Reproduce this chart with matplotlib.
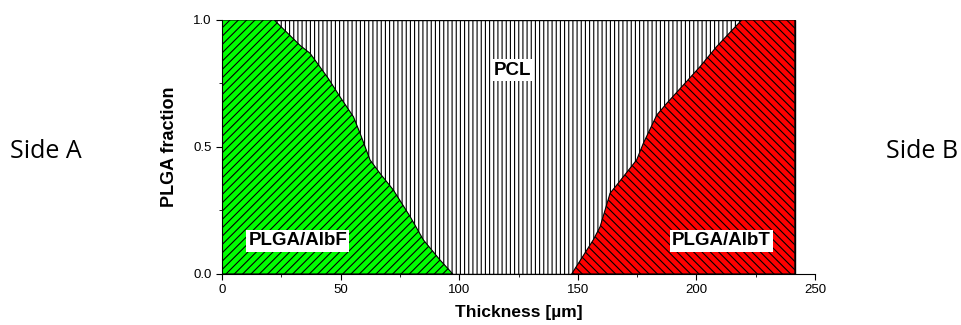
import numpy as np
import matplotlib.pyplot as plt
from matplotlib.ticker import MultipleLocator

plt.rcParams['hatch.linewidth'] = 0.8

# boundary of PLGA/AlbF (side A)
xa = [0, 22, 32.9, 37.1, 44.8, 49.7, 55.4, 58.2, 62.4, 66.6, 72.2, 79.3, 84.9, 91.9, 97.3]
ya = [1.0, 1.0, 0.90, 0.869, 0.77, 0.698, 0.619, 0.554, 0.449, 0.396, 0.331, 0.226, 0.134, 0.055, 0.0]
# boundary of PLGA/AlbT (side B)
xb = [147.4, 156.5, 159.4, 163.6, 166.4, 174.8, 177.6, 183.3, 187.5, 201.5, 208.5, 219.1, 241.5]
yb = [0.0, 0.134, 0.186, 0.318, 0.350, 0.449, 0.514, 0.626, 0.672, 0.816, 0.895, 1.0, 1.0]
x_end = 241.5

fig = plt.figure(figsize=(9.62, 3.25), dpi=100)
ax = fig.add_axes([0.2308, 0.157, 0.6164, 0.7815])

# PCL region
ax.fill([0, 0, x_end, x_end], [0, 1, 1, 0], facecolor='white', edgecolor='black',
        hatch='||||', linewidth=1.0, zorder=1)
# green side A
ax.fill([0] + xa, [0] + ya, facecolor='#00ff00', edgecolor='black',
        hatch='////', linewidth=0.8, zorder=2)
# red side B
ax.fill(xb + [x_end], yb + [0], facecolor='#ff0000', edgecolor='black',
        hatch='\\\\\\\\', linewidth=0.8, zorder=2)

ax.set_xlim(0, 250)
ax.set_ylim(0, 1)
ax.spines['top'].set_visible(False)
ax.spines['right'].set_visible(False)
ax.xaxis.set_major_locator(MultipleLocator(50))
ax.xaxis.set_minor_locator(MultipleLocator(25))
ax.yaxis.set_major_locator(MultipleLocator(0.5))
ax.yaxis.set_minor_locator(MultipleLocator(0.25))
ax.tick_params(which='both', direction='out', labelsize=9.5, colors='black')
ax.tick_params(which='major', length=4)
ax.tick_params(which='minor', length=2.5)
ax.yaxis.set_major_formatter(plt.FormatStrFormatter('%.1f'))
for lbl in ax.get_xticklabels() + ax.get_yticklabels():
    lbl.set_family('Liberation Sans')

ax.set_xlabel('Thickness [µm]', fontsize=12.5, fontweight='bold', family='Liberation Sans', labelpad=6)
ax.set_ylabel('PLGA fraction', fontsize=13, fontweight='bold', family='Liberation Sans', labelpad=11)

box = dict(facecolor='white', edgecolor='none', pad=1.5)
ax.text(122.3, 0.803, 'PCL', ha='center', va='center', fontsize=13.5, fontweight='bold',
        family='Liberation Sans', bbox=box, zorder=5)
ax.text(32.0, 0.130, 'PLGA/AlbF', ha='center', va='center', fontsize=13.5, fontweight='bold',
        family='Liberation Sans', bbox=box, zorder=5)
ax.text(210.4, 0.130, 'PLGA/AlbT', ha='center', va='center', fontsize=13.5, fontweight='bold',
        family='Liberation Sans', bbox=box, zorder=5)

fig.text(46 / 962, 1 - 152 / 325, 'Side A', ha='center', va='center', fontsize=18, family='Open Sans')
fig.text(922 / 962, 1 - 152 / 325, 'Side B', ha='center', va='center', fontsize=18, family='Open Sans')

fig.savefig('out.png', dpi=100)
